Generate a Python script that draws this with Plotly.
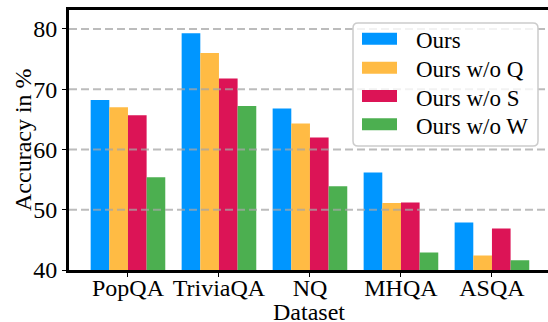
import plotly.graph_objects as go

datasets = ["PopQA", "TriviaQA", "NQ", "MHQA", "ASQA"]
series_names = ["Ours", "Ours w/o Q", "Ours w/o S", "Ours w/o W"]
ours = [68.2, 79.3, 66.8, 56.2, 47.9]
ours_wo_q = [67.0, 76.0, 64.3, 51.1, 42.4]
ours_wo_s = [65.7, 71.8, 62.0, 51.2, 46.9]
ours_wo_w = [55.4, 67.2, 53.9, 42.9, 41.6]
y_ticks = [40, 50, 60, 70, 80]
grid_values = [50, 60, 70, 80]

colors = ["#0096FF", "#FFBB44", "#DC1456", "#4CAF50"]
series = [ours, ours_wo_q, ours_wo_s, ours_wo_w]

FONT = "Liberation Serif"
W, H = 548, 322
L, R, T, B = 69, 0, 10, 52
PW, PH = W - L - R, H - T - B

def px(x):
    return (x - L) / PW

def py(y):
    return (H - B - y) / PH

fig = go.Figure()
for name, vals, c in zip(series_names, series, colors):
    fig.add_trace(go.Bar(x=list(range(len(datasets))), y=vals, name=name,
                         marker=dict(color=c, line=dict(width=0)),
                         showlegend=False))

shapes = []
for g in grid_values:
    shapes.append(dict(type="line", xref="paper", yref="y", x0=0, x1=1, y0=g, y1=g,
                       line=dict(color="rgba(165,165,165,0.75)", width=1.8, dash="8px,4px"),
                       layer="above"))

# legend box (rounded)
x0, x1, y0, y1, r = px(353), px(538), py(23), py(146), 5
rx, ry = r / PW, r / PH
path = (f"M {x0+rx},{y0} L {x1-rx},{y0} Q {x1},{y0} {x1},{y0-ry} "
        f"L {x1},{y1+ry} Q {x1},{y1} {x1-rx},{y1} L {x0+rx},{y1} "
        f"Q {x0},{y1} {x0},{y1+ry} L {x0},{y0-ry} Q {x0},{y0} {x0+rx},{y0} Z")
shapes.append(dict(type="path", xref="paper", yref="paper", path=path,
                   fillcolor="rgba(255,255,255,0.8)",
                   line=dict(color="rgba(204,204,204,1)", width=1.5), layer="above"))

annotations = []
row_centers = [38.7, 67.7, 96, 124.3]
for name, c, rc in zip(series_names, colors, row_centers):
    shapes.append(dict(type="rect", xref="paper", yref="paper",
                       x0=px(362), x1=px(397), y0=py(rc - 6), y1=py(rc + 6),
                       fillcolor=c, line=dict(width=0), layer="above"))
    annotations.append(dict(xref="paper", yref="paper", x=px(414), y=py(rc + 2),
                            text=name, showarrow=False, xanchor="left", yanchor="middle",
                            font=dict(family=FONT, size=23, color="black")))

# axis titles
annotations.append(dict(xref="paper", yref="paper", x=0.5, y=py(327), text="Dataset",
                        showarrow=False, xanchor="center", yanchor="bottom",
                        font=dict(family=FONT, size=24, color="black")))
annotations.append(dict(xref="paper", yref="paper", x=px(8), y=0.5, text="Accuracy in %",
                        showarrow=False, xanchor="left", yanchor="middle", textangle=-90,
                        font=dict(family=FONT, size=24, color="black")))

fig.update_layout(
    width=W, height=H,
    margin=dict(l=L, r=R, t=T, b=B, pad=0, autoexpand=False),
    plot_bgcolor="white", paper_bgcolor="white",
    barmode="group", bargap=0.18, bargroupgap=0,
    font=dict(family=FONT, size=24, color="black"),
    shapes=shapes, annotations=annotations,
    showlegend=False,
    xaxis=dict(range=[-0.648, 4.616], tickmode="array",
               tickvals=list(range(len(datasets))), ticktext=datasets,
               showgrid=False, zeroline=False, automargin=False,
               showline=True, linecolor="black", linewidth=3, mirror=True,
               ticks="outside", ticklen=4, tickwidth=1.2, tickcolor="black",
               ticklabelstandoff=-10,
               tickfont=dict(family=FONT, size=24)),
    yaxis=dict(range=[40, 83.15], tickmode="array", tickvals=y_ticks,
               ticktext=[str(v) for v in y_ticks],
               showgrid=False, zeroline=False, automargin=False,
               showline=True, linecolor="black", linewidth=3, mirror=True,
               ticks="outside", ticklen=4, tickwidth=1.2, tickcolor="black",
               tickfont=dict(family=FONT, size=24)),
)

fig.write_html("out.html", config={"displayModeBar": False},
               post_script="document.body.style.margin='0';document.body.style.overflow='hidden';")
